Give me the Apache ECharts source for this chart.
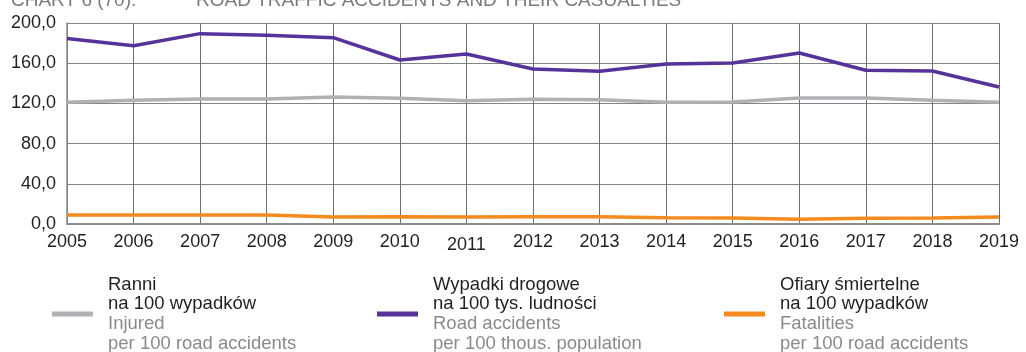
<!DOCTYPE html>
<html>
<head>
<meta charset="utf-8">
<script src="https://cdn.jsdelivr.net/npm/echarts@6/dist/echarts.min.js"></script>
<style>
  html, body { margin: 0; padding: 0; background: #fff; }
  #chart { width: 1026px; height: 352px; }
</style>
</head>
<body>
<div id="chart"></div>
<script>
// Years on the horizontal axis
const years = ['2005','2006','2007','2008','2009','2010','2011','2012','2013','2014','2015','2016','2017','2018','2019'];

// Injured per 100 road accidents
const injured = [121.1, 123.1, 124.4, 124.4, 126.4, 125.1, 122.7, 124.1, 123.7, 121.1, 121.4, 125.4, 125.4, 123.1, 121.1];

// Road accidents per 100 thousand population
const accidents = [184.5, 177.4, 189.4, 187.8, 185.4, 163.2, 169.2, 154.2, 152.0, 159.2, 160.2, 170.1, 153.0, 152.2, 136.3];

// Fatalities per 100 road accidents
const fatalities = [9.0, 8.9, 9.0, 8.9, 7.0, 7.1, 7.0, 7.3, 7.2, 6.3, 6.0, 4.7, 5.7, 6.0, 7.0];

// Legend captions: Polish first, English below
const seriesNames = ['Ranni', 'Wypadki drogowe', 'Ofiary śmiertelne'];
const captionsPl = [['Ranni', 'na 100 wypadków'], ['Wypadki drogowe', 'na 100 tys. ludności'], ['Ofiary śmiertelne', 'na 100 wypadków']];
const captionsEn = [['Injured', 'per 100 road accidents'], ['Road accidents', 'per 100 thous. population'], ['Fatalities', 'per 100 road accidents']];

const yTicks = { min: 0, max: 200, interval: 40 };
const chartTitle = ['CHART 6 (70).', 'ROAD TRAFFIC ACCIDENTS AND THEIR CASUALTIES'];

const FONT = '"Liberation Sans", Arial, Helvetica, sans-serif';
const colors = ['#b1b1b4', '#553399', '#f58a1f'];

function legendFor(i, left) {
  return {
    data: [seriesNames[i]],
    left: left,
    top: 275,
    padding: 0,
    icon: 'rect',
    itemWidth: 41,
    itemHeight: 5,
    selectedMode: false,
    formatter: function () {
      return '{pl|' + captionsPl[i][0] + '}\n{pl|' + captionsPl[i][1] + '}\n{en|' +
             captionsEn[i][0] + '}\n{en|' + captionsEn[i][1] + '}';
    },
    textStyle: {
      fontFamily: FONT,
      padding: [0, 0, 0, 10],
      rich: {
        pl: { fontSize: 18.5, lineHeight: 19.7, color: '#231f20', fontFamily: FONT },
        en: { fontSize: 18.5, lineHeight: 19.7, color: '#8a8a8c', fontFamily: FONT }
      }
    }
  };
}

const titleStyle = { fontFamily: FONT, fontSize: 19, fontWeight: 'normal', color: '#7a7a7c' };

const chart = echarts.init(document.getElementById('chart'), null, { renderer: 'canvas' });

chart.setOption({
  animation: false,
  backgroundColor: '#ffffff',
  title: [
    { text: chartTitle[0], left: 6, top: -14, textStyle: titleStyle },
    { text: chartTitle[1], left: 191, top: -14, textStyle: titleStyle }
  ],
  legend: [legendFor(0, 52), legendFor(1, 377), legendFor(2, 724)],
  grid: { left: 67, right: 27, top: 23, bottom: 128, containLabel: false },
  xAxis: {
    type: 'category',
    data: years,
    boundaryGap: false,
    axisLine: { show: true, lineStyle: { color: '#8c8c8c', width: 2 } },
    axisTick: { show: false },
    splitLine: { show: true, lineStyle: { color: '#6e6e6e', width: 1 } },
    axisLabel: {
      fontFamily: FONT,
      fontSize: 18,
      color: '#231f20',
      margin: 9,
      interval: 0,
      formatter: function (v) { return v === '2011' ? '{low|' + v + '}' : v; },
      rich: { low: { fontFamily: FONT, fontSize: 18, color: '#231f20', padding: [3, 0, 0, 0] } }
    }
  },
  yAxis: {
    type: 'value',
    min: yTicks.min,
    max: yTicks.max,
    interval: yTicks.interval,
    axisLine: { show: true, lineStyle: { color: '#8c8c8c', width: 1.5 } },
    axisTick: { show: false },
    splitLine: { show: true, lineStyle: { color: '#858585', width: 1 } },
    axisLabel: {
      fontFamily: FONT,
      fontSize: 18,
      color: '#231f20',
      margin: 11,
      formatter: function (v) { return v.toFixed(1).replace('.', ','); }
    }
  },
  series: [
    {
      name: seriesNames[0], type: 'line', data: injured,
      symbol: 'none', color: colors[0],
      lineStyle: { color: colors[0], width: 3.5 }, z: 3
    },
    {
      name: seriesNames[1], type: 'line', data: accidents,
      symbol: 'none', color: colors[1],
      lineStyle: { color: colors[1], width: 3.5 }, z: 4
    },
    {
      name: seriesNames[2], type: 'line', data: fatalities,
      symbol: 'none', color: colors[2],
      lineStyle: { color: colors[2], width: 3.5 }, z: 5
    }
  ]
});
</script>
</body>
</html>
